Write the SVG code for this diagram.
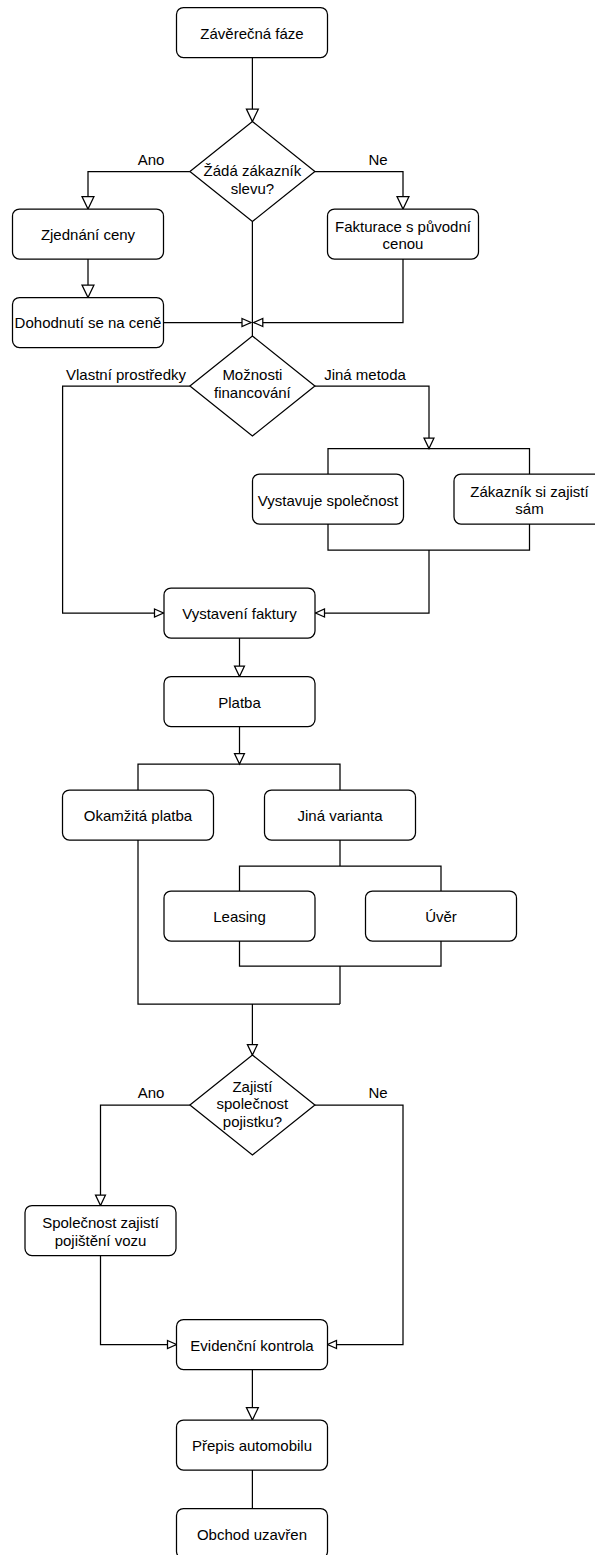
<svg xmlns="http://www.w3.org/2000/svg" width="595" height="1555" viewBox="0 0 595 1555">
  <style>
    .box { fill: #ffffff; stroke: #000000; stroke-width: 1.25; }
    .edge { fill: none; stroke: #000000; stroke-width: 1.25; }
    .lbl { font-family: "Liberation Sans", Arial, Helvetica, sans-serif; font-size: 15px; fill: #000000; text-anchor: middle; }
  </style>
  <defs>
    <marker id="arrowBig" markerUnits="userSpaceOnUse" viewBox="-1 -1 15 14" refX="12.5" refY="6" markerWidth="15" markerHeight="14" orient="auto" overflow="visible">
      <path d="M0,0 L12.5,6 L0,12 Z" fill="#ffffff" stroke="#000000" stroke-width="1.25"/>
    </marker>
    <marker id="arrowMid" markerUnits="userSpaceOnUse" viewBox="-1 -1 13 12" refX="10.5" refY="5" markerWidth="13" markerHeight="12" orient="auto" overflow="visible">
      <path d="M0,0 L10.5,5 L0,10 Z" fill="#ffffff" stroke="#000000" stroke-width="1.25"/>
    </marker>
    <marker id="arrowSmall" markerUnits="userSpaceOnUse" viewBox="-1 -1 11 10" refX="9" refY="4" markerWidth="11" markerHeight="10" orient="auto" overflow="visible">
      <path d="M0,0 L9,4 L0,8 Z" fill="#ffffff" stroke="#000000" stroke-width="1.25"/>
    </marker>
  </defs>

  <rect width="595" height="1555" fill="#ffffff"/>

  <!-- connectors -->
  <g id="connectors">
    <path class="edge" d="M252.4,57.5 V121.5" marker-end="url(#arrowBig)"/>
    <path class="edge" d="M189.9,171.5 H88 V209" marker-end="url(#arrowBig)"/>
    <path class="edge" d="M314.9,171.5 H403 V209" marker-end="url(#arrowBig)"/>
    <path class="edge" d="M88,259 V297.5" marker-end="url(#arrowBig)"/>
    <path class="edge" d="M163.5,322.5 H251" marker-end="url(#arrowSmall)"/>
    <path class="edge" d="M403,259 V322.5 H253.8" marker-end="url(#arrowSmall)"/>
    <path class="edge" d="M252.4,221.5 V336"/>
    <path class="edge" d="M189.9,386 H62.6 V613 H163.5" marker-end="url(#arrowSmall)"/>
    <path class="edge" d="M314.9,386 H429 V448.5" marker-end="url(#arrowMid)"/>
    <path class="edge" d="M328,474 V448.5 H529.5 V474"/>
    <path class="edge" d="M328,524 V550 H529.5 V524"/>
    <path class="edge" d="M429,550 V613 H315.5" marker-end="url(#arrowSmall)"/>
    <path class="edge" d="M239.5,638 V676.5" marker-end="url(#arrowMid)"/>
    <path class="edge" d="M239.5,726.5 V764" marker-end="url(#arrowMid)"/>
    <path class="edge" d="M138,790 V764 H340 V790"/>
    <path class="edge" d="M340,840 V866"/>
    <path class="edge" d="M239.5,891 V866 H441 V891"/>
    <path class="edge" d="M239.5,941 V966 H441 V941"/>
    <path class="edge" d="M340,966 V1004"/>
    <path class="edge" d="M138,840 V1004 H340"/>
    <path class="edge" d="M252.4,1004 V1055" marker-end="url(#arrowMid)"/>
    <path class="edge" d="M189.9,1105 H100.5 V1205.5" marker-end="url(#arrowMid)"/>
    <path class="edge" d="M314.9,1105 H403 V1344.5 H327.5" marker-end="url(#arrowSmall)"/>
    <path class="edge" d="M100.5,1255.5 V1344.5 H176.5" marker-end="url(#arrowSmall)"/>
    <path class="edge" d="M252.4,1369.5 V1420" marker-end="url(#arrowBig)"/>
    <path class="edge" d="M252.4,1470 V1508.5"/>
    <text class="lbl" x="151" y="165">Ano</text>
    <text class="lbl" x="378" y="164.5">Ne</text>
    <text class="lbl" x="126" y="380">Vlastní prostředky</text>
    <text class="lbl" x="365" y="380">Jiná metoda</text>
    <text class="lbl" x="151" y="1098">Ano</text>
    <text class="lbl" x="378" y="1098">Ne</text>
  </g>

  <!-- nodes -->
  <g id="zaverecna-faze">
    <rect class="box" x="176.5" y="7.5" width="151" height="50" rx="7"/>
    <text class="lbl" x="252" y="38.5">Závěrečná fáze</text>
  </g>
  <g id="zada-slevu">
    <polygon class="box" points="252.4,121.5 314.9,171.5 252.4,221.5 189.9,171.5"/>
    <text class="lbl" x="252.4" y="176">Žádá zákazník</text>
    <text class="lbl" x="252.4" y="193.5">slevu?</text>
  </g>
  <g id="zjednani-ceny">
    <rect class="box" x="12.5" y="209" width="151" height="50" rx="7"/>
    <text class="lbl" x="88" y="240">Zjednání ceny</text>
  </g>
  <g id="fakturace">
    <rect class="box" x="327.5" y="209" width="151" height="50" rx="7"/>
    <text class="lbl" x="403" y="231.7">Fakturace s původní</text>
    <text class="lbl" x="403" y="249.3">cenou</text>
  </g>
  <g id="dohodnuti">
    <rect class="box" x="12.5" y="297.5" width="151" height="50" rx="7"/>
    <text class="lbl" x="88" y="328">Dohodnutí se na ceně</text>
  </g>
  <g id="moznosti-financovani">
    <polygon class="box" points="252.4,336 314.9,386 252.4,436 189.9,386"/>
    <text class="lbl" x="252.4" y="380">Možnosti</text>
    <text class="lbl" x="252.4" y="398">financování</text>
  </g>
  <g id="vystavuje-spolecnost">
    <rect class="box" x="252.5" y="474" width="151" height="50" rx="7"/>
    <text class="lbl" x="328" y="505.5">Vystavuje společnost</text>
  </g>
  <g id="zakaznik-si-zajisti">
    <rect class="box" x="454" y="474" width="151" height="50" rx="7"/>
    <text class="lbl" x="529.5" y="496.7">Zákazník si zajistí</text>
    <text class="lbl" x="529.5" y="514.3">sám</text>
  </g>
  <g id="vystaveni-faktury">
    <rect class="box" x="164" y="588" width="151" height="50" rx="7"/>
    <text class="lbl" x="239.5" y="619">Vystavení faktury</text>
  </g>
  <g id="platba">
    <rect class="box" x="164" y="676.5" width="151" height="50" rx="7"/>
    <text class="lbl" x="239.5" y="707.5">Platba</text>
  </g>
  <g id="okamzita-platba">
    <rect class="box" x="62.5" y="790" width="151" height="50" rx="7"/>
    <text class="lbl" x="138" y="821">Okamžitá platba</text>
  </g>
  <g id="jina-varianta">
    <rect class="box" x="264.5" y="790" width="151" height="50" rx="7"/>
    <text class="lbl" x="340" y="821">Jiná varianta</text>
  </g>
  <g id="leasing">
    <rect class="box" x="164" y="891" width="151" height="50" rx="7"/>
    <text class="lbl" x="239.5" y="922">Leasing</text>
  </g>
  <g id="uver">
    <rect class="box" x="365.5" y="891" width="151" height="50" rx="7"/>
    <text class="lbl" x="441" y="922">Úvěr</text>
  </g>
  <g id="zajisti-pojistku">
    <polygon class="box" points="252.4,1055 314.9,1105 252.4,1155 189.9,1105"/>
    <text class="lbl" x="252.4" y="1091.5">Zajistí</text>
    <text class="lbl" x="252.4" y="1109">společnost</text>
    <text class="lbl" x="252.4" y="1126.5">pojistku?</text>
  </g>
  <g id="spolecnost-zajisti">
    <rect class="box" x="25" y="1205.5" width="151" height="50" rx="7"/>
    <text class="lbl" x="100.5" y="1228.2">Společnost zajistí</text>
    <text class="lbl" x="100.5" y="1245.8">pojištění vozu</text>
  </g>
  <g id="evidencni-kontrola">
    <rect class="box" x="176.5" y="1319.5" width="151" height="50" rx="7"/>
    <text class="lbl" x="252" y="1350.5">Evidenční kontrola</text>
  </g>
  <g id="prepis-automobilu">
    <rect class="box" x="176.5" y="1420" width="151" height="50" rx="7"/>
    <text class="lbl" x="252" y="1451">Přepis automobilu</text>
  </g>
  <g id="obchod-uzavren">
    <rect class="box" x="176.5" y="1508.5" width="151" height="50" rx="7"/>
    <text class="lbl" x="252" y="1539.5">Obchod uzavřen</text>
  </g>
</svg>
